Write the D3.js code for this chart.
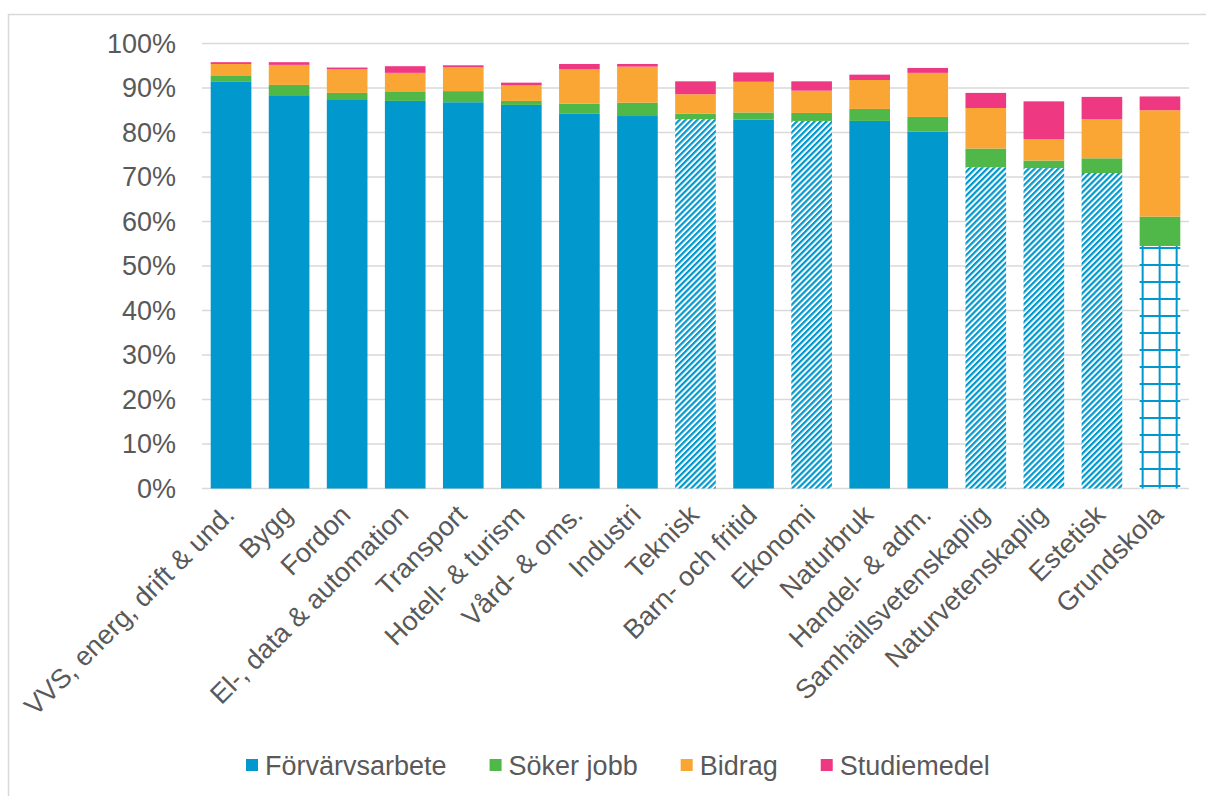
<!DOCTYPE html>
<html>
<head>
<meta charset="utf-8">
<script src="https://cdn.jsdelivr.net/npm/d3@7"></script>
<style>
  body { margin: 0; background: #fff; }
  text { font-family: "Liberation Sans", Arial, sans-serif; fill: #595959; }
</style>
</head>
<body>
<div id="chart"></div>
<script>
// Program categories (left to right)
const categories = ["VVS, energ, drift & und.", "Bygg", "Fordon", "El-, data & automation",
  "Transport", "Hotell- & turism", "Vård- & oms.", "Industri", "Teknisk", "Barn- och fritid",
  "Ekonomi", "Naturbruk", "Handel- & adm.", "Samhällsvetenskaplig", "Naturvetenskaplig",
  "Estetisk", "Grundskola"];

// Series values in percent
const forvarv = [91.5, 88.2, 87.3, 87.1, 86.8, 86.2, 84.3, 83.7, 83.0, 82.9, 82.6, 82.6, 80.2, 72.2, 72.0, 70.9, 54.5];
const soker   = [1.2, 2.5, 1.6, 2.0, 2.5, 0.9, 2.2, 3.0, 1.2, 1.6, 1.8, 2.7, 3.3, 4.2, 1.7, 3.3, 6.6];
const bidrag  = [2.7, 4.5, 5.3, 4.3, 5.4, 3.5, 7.7, 8.1, 4.4, 6.9, 5.0, 6.5, 9.9, 9.1, 4.8, 8.8, 23.9];
const studie  = [0.4, 0.6, 0.4, 1.5, 0.4, 0.6, 1.2, 0.6, 2.9, 2.1, 2.1, 1.2, 1.1, 3.4, 8.5, 5.0, 3.1];

// How the Förvärvsarbete segment is filled for each category
const fillKind = ["solid", "solid", "solid", "solid", "solid", "solid", "solid", "solid", "stripe",
  "solid", "stripe", "solid", "solid", "stripe", "stripe", "stripe", "grid"];

const seriesNames = ["Förvärvsarbete", "Söker jobb", "Bidrag", "Studiemedel"];
const yTicks = [0, 10, 20, 30, 40, 50, 60, 70, 80, 90, 100];

const colors = ["#0098CD", "#50B848", "#F9A634", "#EF3882"];

const W = 1206, H = 796;
const margin = { top: 43.5, right: 17, bottom: 307.5, left: 202 };
const width = W - margin.left - margin.right;
const height = H - margin.top - margin.bottom;

const rows = categories.map((c, i) => ({
  cat: c, kind: fillKind[i],
  "Förvärvsarbete": forvarv[i], "Söker jobb": soker[i], "Bidrag": bidrag[i], "Studiemedel": studie[i]
}));

const svgRoot = d3.select("#chart").append("svg")
  .attr("width", W)
  .attr("height", H);

// Outer chart border
svgRoot.append("rect")
  .attr("x", 8.5).attr("y", 14.5)
  .attr("width", W + 20).attr("height", H + 20)
  .attr("fill", "none")
  .attr("stroke", "#d9d9d9")
  .attr("stroke-width", 1.5);

const x = d3.scaleBand()
  .domain(categories)
  .range([0, width])
  .paddingInner(0.3)
  .paddingOuter(0.15);

const y = d3.scaleLinear()
  .domain([0, 100])
  .range([height, 0]);

// Patterns
const defs = svgRoot.append("defs");
const stripe = defs.append("pattern")
  .attr("id", "stripe")
  .attr("patternUnits", "userSpaceOnUse")
  .attr("width", 4.2).attr("height", 4.2)
  .attr("patternTransform", "rotate(45)");
stripe.append("rect").attr("width", 4.2).attr("height", 4.2).attr("fill", "#fff");
stripe.append("rect").attr("width", 2.2).attr("height", 4.2).attr("fill", colors[0]);

const gridIdx = fillKind.indexOf("grid");
const gridStep = 17;
const grid = defs.append("pattern")
  .attr("id", "grid")
  .attr("patternUnits", "userSpaceOnUse")
  .attr("x", margin.left + x(categories[gridIdx]) + 4)
  .attr("y", margin.top + y(0) - 13)
  .attr("width", gridStep).attr("height", gridStep);
grid.append("rect").attr("width", gridStep).attr("height", gridStep).attr("fill", "#fff");
grid.append("rect").attr("width", 2).attr("height", gridStep).attr("fill", colors[0]);
grid.append("rect").attr("width", gridStep).attr("height", 2).attr("fill", colors[0]);

const svg = svgRoot.append("g")
  .attr("transform", `translate(${margin.left},${margin.top})`);

// Gridlines
svg.append("g")
  .selectAll("line")
  .data(yTicks)
  .enter().append("line")
  .attr("x1", 0).attr("x2", width)
  .attr("y1", d => y(d)).attr("y2", d => y(d))
  .attr("stroke", "#d9d9d9")
  .attr("stroke-width", 1.5);

// Y tick labels
svg.append("g")
  .selectAll("text")
  .data(yTicks)
  .enter().append("text")
  .attr("x", -26)
  .attr("y", d => y(d))
  .attr("dy", "0.35em")
  .attr("text-anchor", "end")
  .style("font-size", "27px")
  .text(d => d + "%");

// Stacked bars
const stacked = d3.stack().keys(seriesNames)(rows);

svg.selectAll(".series")
  .data(stacked)
  .enter().append("g")
  .attr("class", "series")
  .each(function(s, si) {
    d3.select(this).selectAll("rect")
      .data(s)
      .enter().append("rect")
      .attr("x", d => x(d.data.cat))
      .attr("width", x.bandwidth())
      .attr("y", d => y(d[1]))
      .attr("height", d => y(d[0]) - y(d[1]))
      .attr("fill", d => {
        if (si === 0 && d.data.kind === "stripe") return "url(#stripe)";
        if (si === 0 && d.data.kind === "grid") return "url(#grid)";
        return colors[si];
      });
  });

// Category labels (rotated)
svg.append("g")
  .selectAll("text")
  .data(categories)
  .enter().append("text")
  .attr("transform", d => `translate(${x(d) + x.bandwidth() / 2 + 5},${height + 28}) rotate(-45)`)
  .attr("text-anchor", "end")
  .style("font-size", "27px")
  .text(d => d);

// Legend
const legend = svgRoot.append("g")
  .attr("transform", "translate(246,775)");
let lx = 0;
seriesNames.forEach((name, i) => {
  legend.append("rect")
    .attr("x", lx).attr("y", -16)
    .attr("width", 12).attr("height", 12)
    .attr("fill", colors[i]);
  const t = legend.append("text")
    .attr("x", lx + 19).attr("y", 0)
    .style("font-size", "27px")
    .text(name);
  lx += 19 + t.node().getComputedTextLength() + 43;
});
</script>
</body>
</html>
